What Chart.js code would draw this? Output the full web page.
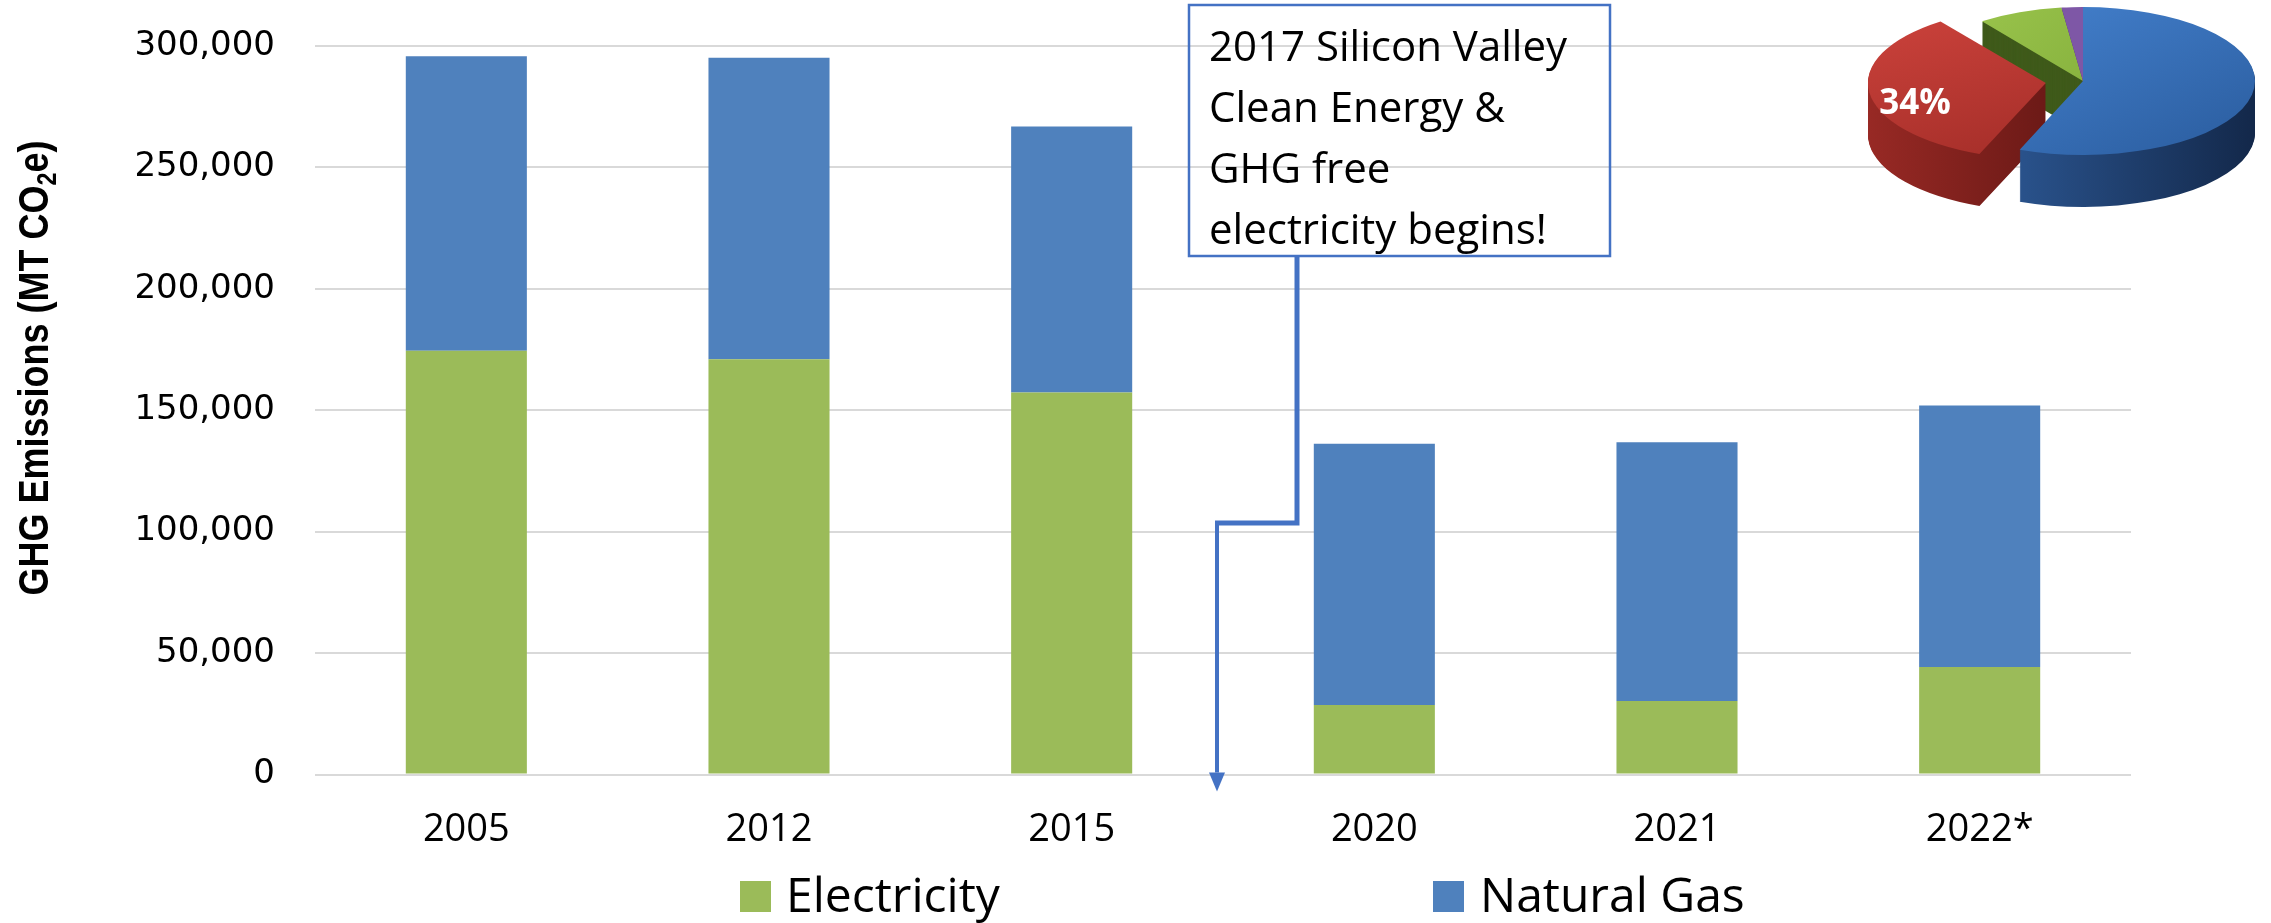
<!DOCTYPE html>
<html>
<head>
<meta charset="utf-8">
<title>GHG Emissions</title>
<script src="https://cdn.jsdelivr.net/npm/chart.js@4.4.1/dist/chart.umd.min.js"></script>
<style>
  html, body { margin: 0; padding: 0; background: #fff; }
  #wrap { position: relative; width: 2271px; height: 923px; overflow: hidden; }
  #main { position: absolute; left: 0; top: 0; }
  #pie { position: absolute; left: 1851px; top: 0; }
</style>
</head>
<body>
<div id="wrap">
  <canvas id="main" width="2271" height="923"></canvas>
  <canvas id="pie" width="420" height="230"></canvas>
</div>
<script>
// --- data ---
const years = ["2005", "2012", "2015", "2020", "2021", "2022*"];
const electricity = [174500, 171000, 157300, 28600, 30300, 44300];
const naturalGas = [121300, 124200, 109500, 107600, 106500, 107700];
const yTicks = [0, 50000, 100000, 150000, 200000, 250000, 300000];
const seriesNames = ["Electricity", "Natural Gas"];
const calloutLines = ["2017 Silicon Valley", "Clean Energy &", "GHG free", "electricity begins!"];

// small inset pie (only the 34% slice is labelled in the source)
const pieNames = ["blue", "red", "green", "purple"];
const pieShares = [56, 34, 8, 2];
const pieLabel = "34%";

// --- colours ---
const GREEN = "#9bbb59";
const BLUE = "#4f81bd";
const GRID = "#d9d9d9";
const LINE = "#4472c4";

// rotated y title with a subscript 2
const yTitlePlugin = {
    id: "yTitle",
    afterDraw(chart) {
        const ctx = chart.ctx;
        const big = 'bold 43px "Liberation Sans Narrow", "Liberation Sans", sans-serif';
        const small = 'bold 28px "Liberation Sans Narrow", "Liberation Sans", sans-serif';
        const p1 = "GHG Emissions (MT CO", p2 = "2", p3 = "e)";
        ctx.save();
        ctx.font = big;
        const w1 = ctx.measureText(p1).width, w3 = ctx.measureText(p3).width;
        ctx.font = small;
        const w2 = ctx.measureText(p2).width;
        const total = w1 + w2 + w3;
        ctx.translate(48, 368);
        ctx.rotate(-Math.PI / 2);
        ctx.scale(455 / total, 1);
        ctx.fillStyle = "#000";
        ctx.textBaseline = "alphabetic";
        const x0 = -total / 2;
        ctx.font = big;
        ctx.fillText(p1, x0, 0);
        ctx.font = small;
        ctx.fillText(p2, x0 + w1, 8);
        ctx.font = big;
        ctx.fillText(p3, x0 + w1 + w2, 0);
        ctx.restore();
    }
};

// text box + elbow arrow down to the baseline between 2015 and 2020
const calloutPlugin = {
    id: "callout",
    afterDraw(chart) {
        const ctx = chart.ctx;
        const x = chart.scales.x, y = chart.scales.y;
        const arrowX = (x.getPixelForValue(2) + x.getPixelForValue(3)) / 2 - 6;
        const base = y.getPixelForValue(0);
        ctx.save();
        ctx.strokeStyle = LINE;
        ctx.lineWidth = 2.5;
        ctx.strokeRect(1189, 5, 421, 251);

        ctx.fillStyle = "#000";
        ctx.font = '42px "Open Sans", sans-serif';
        ctx.textBaseline = "alphabetic";
        calloutLines.forEach((t, i) => ctx.fillText(t, 1209, 61 + i * 61));

        // connector
        ctx.lineJoin = "miter";
        ctx.lineWidth = 5;
        ctx.beginPath();
        ctx.moveTo(1297, 256);
        ctx.lineTo(1297, 523);
        ctx.lineTo(arrowX - 2, 523);
        ctx.stroke();
        ctx.lineWidth = 4;
        ctx.beginPath();
        ctx.moveTo(arrowX, 521);
        ctx.lineTo(arrowX, base - 2);
        ctx.stroke();
        ctx.fillStyle = LINE;
        ctx.beginPath();
        ctx.moveTo(arrowX - 8, base - 2);
        ctx.lineTo(arrowX + 8, base - 2);
        ctx.lineTo(arrowX, base + 17);
        ctx.closePath();
        ctx.fill();
        ctx.restore();
    }
};

// legend spread like the office chart
const legendPlugin = {
    id: "spreadLegend",
    afterDraw(chart) {
        const ctx = chart.ctx;
        const items = [
            { box: 740, text: 786, color: GREEN, label: seriesNames[0] },
            { box: 1433, text: 1480, color: BLUE, label: seriesNames[1] }
        ];
        ctx.save();
        ctx.font = '48px "Open Sans", sans-serif';
        ctx.textBaseline = "alphabetic";
        items.forEach(it => {
            ctx.fillStyle = it.color;
            ctx.fillRect(it.box, 881, 31, 31);
            ctx.fillStyle = "#000";
            ctx.fillText(it.label, it.text, 912);
        });
        ctx.restore();
    }
};

function buildMain() {
    new Chart(document.getElementById("main"), {
        type: "bar",
        data: {
            labels: years,
            datasets: [
                { label: seriesNames[0], data: electricity, backgroundColor: GREEN, borderWidth: 0 },
                { label: seriesNames[1], data: naturalGas, backgroundColor: BLUE, borderWidth: 0 }
            ]
        },
        options: {
            responsive: false,
            animation: false,
            events: [],
            layout: { padding: { left: 0, right: 140, top: 46, bottom: 0 } },
            datasets: { bar: { barPercentage: 0.4, categoryPercentage: 1 } },
            plugins: { legend: { display: false }, tooltip: { enabled: false } },
            scales: {
                x: {
                    stacked: true,
                    grid: { display: false, drawTicks: false },
                    border: { display: false },
                    ticks: { color: "#000", font: { family: "Open Sans", size: 38 }, padding: 33 },
                    afterFit: s => { s.height = 148.5; }
                },
                y: {
                    stacked: true,
                    min: 0,
                    max: 300000,
                    afterBuildTicks: s => { s.ticks = yTicks.map(v => ({ value: v })); },
                    grid: { color: GRID, lineWidth: 2, drawTicks: false },
                    border: { display: false },
                    ticks: {
                        color: "#000",
                        padding: 40,
                        font: { family: "DejaVu Sans", size: 34 },
                        callback: v => v.toLocaleString("en-US")
                    },
                    // fixed axis width; drop the label overflow padding so the plot top sits at 300,000
                    afterFit: s => { s.width = 315; s.paddingTop = 0; s.paddingBottom = 0; }
                }
            }
        },
        plugins: [yTitlePlugin, calloutPlugin, legendPlugin]
    });
}

// --- inset 3D-looking pie ---
const pieCx = 232, pieCy = 81, squash = 0.43, depth = 52, pieR = 172;

function grad(ctx, x0, y0, x1, y1, c0, c1) {
    const g = ctx.createLinearGradient(x0, y0, x1, y1);
    g.addColorStop(0, c0);
    g.addColorStop(1, c1);
    return g;
}

function squashCtx(ctx, arc) {
    ctx.translate(0, pieCy);
    ctx.scale(1, squash);
    ctx.translate(0, -arc.y);
}

function buildPie() {
    const canvas = document.getElementById("pie");
    const c = canvas.getContext("2d");
    const cy0 = 115; // centre of the unsquashed chart area
    const L = pieCx - pieR - 40, R = pieCx + pieR;
    const pieTop = [
        grad(c, L, cy0 - pieR, R, cy0 + pieR, "#4a89d8", "#2a5c9e"),
        grad(c, L, cy0 - pieR, L + 200, cy0 + pieR, "#cf443d", "#a52e29"),
        grad(c, L, cy0 - pieR, R, cy0, "#a2cc52", "#7aa534"),
        "#7e57a6"
    ];
    const pieSide = [
        grad(c, L + 120, 0, R, 0, "#2c5793", "#13284a"),
        grad(c, L, 0, L + 220, 0, "#a02c27", "#6a1916"),
        "#3f5a1a",
        "#4d3370"
    ];

    const pie3dPlugin = {
        id: "pie3d",
        beforeDatasetsDraw(chart) {
            const ctx = chart.ctx;
            const arcs = chart.getDatasetMeta(0).data;
            ctx.save();
            for (let d = depth; d >= 1; d--) {
                ctx.save();
                ctx.translate(0, d);
                squashCtx(ctx, arcs[0]);
                arcs.forEach((arc, i) => {
                    const side = Object.create(arc);
                    side.options = Object.assign({}, arc.options, { backgroundColor: pieSide[i], borderWidth: 0 });
                    side.draw(ctx);
                });
                ctx.restore();
            }
            squashCtx(ctx, arcs[0]);
        },
        afterDatasetsDraw(chart) {
            const ctx = chart.ctx;
            ctx.restore();
            ctx.save();
            ctx.fillStyle = "#fff";
            ctx.font = 'bold 35px "Open Sans", sans-serif';
            ctx.textAlign = "center";
            ctx.textBaseline = "middle";
            ctx.fillText(pieLabel, 64, 104);
            ctx.restore();
        }
    };

    new Chart(canvas, {
        type: "pie",
        data: {
            labels: pieNames,
            datasets: [{
                data: pieShares,
                backgroundColor: pieTop,
                borderWidth: 0,
                offset: [0, 150, 0, 0],
                clip: false
            }]
        },
        options: {
            responsive: false,
            animation: false,
            events: [],
            radius: pieR,
            layout: { padding: { left: 44 } },
            plugins: { legend: { display: false }, tooltip: { enabled: false } }
        },
        plugins: [pie3dPlugin]
    });
}

Promise.all([
    document.fonts.load('38px "Open Sans"'),
    document.fonts.load('bold 31px "Open Sans"'),
    document.fonts.load('34px "DejaVu Sans"'),
    document.fonts.load('bold 40px "Liberation Sans Narrow"')
]).catch(() => {}).then(() => {
    buildMain();
    buildPie();
});
</script>
</body>
</html>
